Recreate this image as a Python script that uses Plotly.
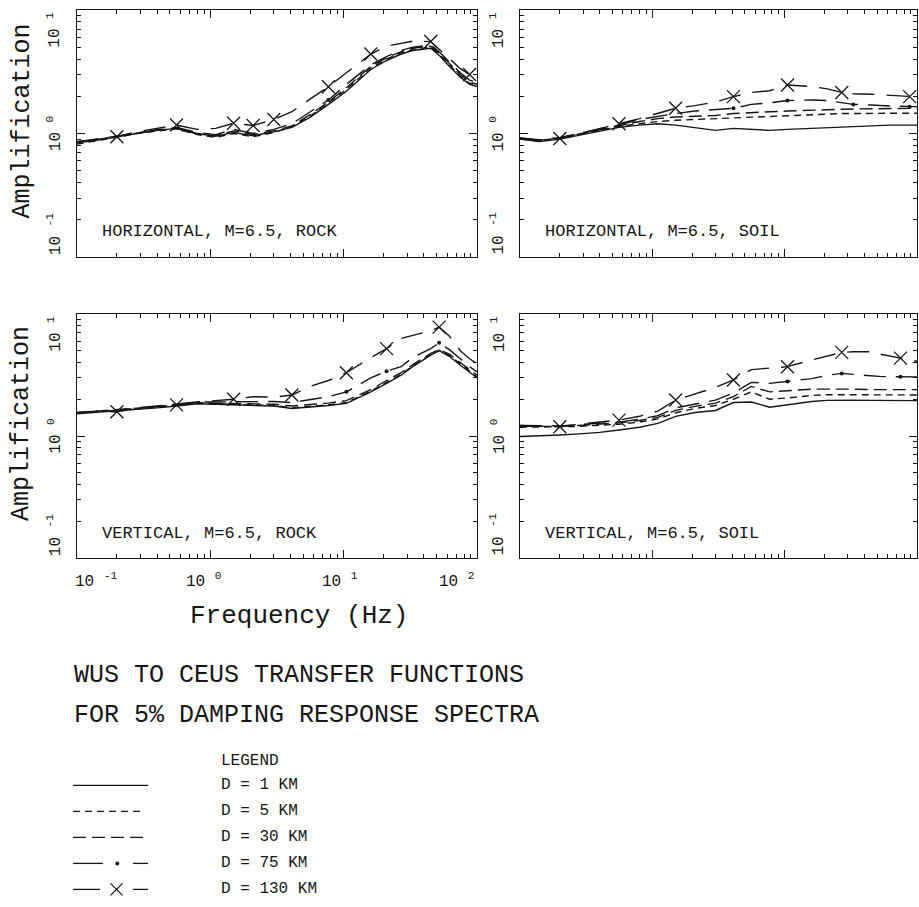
import math
import plotly.graph_objects as go

# ---------------- data ----------------
freq = [0.1, 0.14, 0.2, 0.28, 0.4, 0.56, 0.8, 1.1, 1.5, 2.1, 3.0, 4.1, 5.6, 7.7,
        10.5, 16, 21, 27, 33, 45, 52, 62, 75, 88, 100]
distances = ["1", "5", "30", "75", "130"]

# Horizontal, M=6.5, rock
h_rock_1 = [0.84, 0.88, 0.94, 1.0, 1.06, 1.1, 1.0, 0.95, 1.02, 0.96, 1.03, 1.12, 1.35, 1.72,
            2.2, 3.3, 3.9, 4.4, 4.7, 4.9, 4.3, 3.5, 2.85, 2.5, 2.4]
h_rock_5 = [0.82, 0.87, 0.93, 1.0, 1.05, 1.09, 0.98, 0.93, 1.0, 0.94, 1.02, 1.13, 1.38, 1.76,
            2.28, 3.4, 4.0, 4.5, 4.8, 5.0, 4.4, 3.6, 2.9, 2.55, 2.45]
h_rock_30 = [0.86, 0.89, 0.95, 1.01, 1.07, 1.1, 0.99, 0.96, 1.05, 0.98, 1.05, 1.15, 1.42, 1.8,
             2.35, 3.5, 4.1, 4.6, 4.9, 5.1, 4.5, 3.7, 3.0, 2.6, 2.5]
h_rock_75 = [0.85, 0.9, 0.95, 1.02, 1.07, 1.12, 1.02, 0.98, 1.08, 1.0, 1.08, 1.2, 1.5, 1.87,
             2.5, 3.6, 4.2, 4.7, 5.0, 5.2, 4.6, 3.8, 3.1, 2.7, 2.6]
h_rock_130 = [0.86, 0.9, 0.94, 1.03, 1.1, 1.17, 1.08, 1.1, 1.21, 1.16, 1.3, 1.5, 1.9, 2.39,
              3.1, 4.4, 5.1, 5.4, 5.6, 5.55, 4.8, 4.0, 3.35, 3.0, 2.85]

# Horizontal, M=6.5, soil
h_soil_1 = [0.9, 0.86, 0.9, 0.97, 1.05, 1.12, 1.17, 1.2, 1.17, 1.12, 1.06, 1.1, 1.08, 1.06,
            1.08, 1.1, 1.12, 1.14, 1.15, 1.16, 1.17, 1.17, 1.17, 1.17, 1.17]
h_soil_5 = [0.9, 0.87, 0.91, 0.98, 1.06, 1.14, 1.2, 1.25, 1.28, 1.3, 1.32, 1.34, 1.36, 1.38,
            1.4, 1.42, 1.44, 1.45, 1.45, 1.46, 1.46, 1.46, 1.46, 1.46, 1.46]
h_soil_30 = [0.91, 0.88, 0.92, 0.99, 1.07, 1.15, 1.25, 1.32, 1.36, 1.38, 1.4, 1.45, 1.48, 1.5,
             1.52, 1.55, 1.56, 1.57, 1.58, 1.59, 1.6, 1.6, 1.6, 1.6, 1.6]
h_soil_75 = [0.92, 0.88, 0.93, 1.0, 1.08, 1.17, 1.3, 1.38, 1.45, 1.52, 1.56, 1.6, 1.72, 1.77,
             1.85, 1.87, 1.85, 1.78, 1.72, 1.7, 1.68, 1.67, 1.66, 1.65, 1.65]
h_soil_130 = [0.92, 0.89, 0.91, 1.0, 1.1, 1.2, 1.32, 1.45, 1.6, 1.68, 1.8, 1.99, 2.15, 2.22,
              2.47, 2.4, 2.3, 2.15, 2.1, 2.08, 2.06, 2.04, 2.01, 1.99, 1.98]

# Vertical, M=6.5, rock
v_rock_1 = [1.52, 1.56, 1.6, 1.64, 1.7, 1.76, 1.84, 1.82, 1.8, 1.78, 1.76, 1.68, 1.72, 1.78,
            1.85, 2.3, 2.7, 3.15, 3.7, 4.6, 5.0, 4.5, 3.8, 3.3, 3.0]
v_rock_5 = [1.54, 1.58, 1.62, 1.66, 1.72, 1.78, 1.86, 1.84, 1.82, 1.8, 1.78, 1.7, 1.75, 1.8,
            1.88, 2.33, 2.75, 3.2, 3.75, 4.65, 5.05, 4.6, 3.9, 3.4, 3.05]
v_rock_30 = [1.56, 1.6, 1.63, 1.68, 1.74, 1.8, 1.88, 1.86, 1.85, 1.83, 1.82, 1.76, 1.8, 1.86,
             1.95, 2.4, 2.85, 3.3, 3.85, 4.75, 5.1, 4.7, 4.0, 3.5, 3.15]
v_rock_75 = [1.55, 1.6, 1.62, 1.7, 1.76, 1.82, 1.9, 1.9, 1.9, 1.9, 1.92, 1.88, 1.98, 2.1,
             2.3, 3.0, 3.4, 3.7, 4.4, 5.2, 5.8, 5.1, 4.3, 3.7, 3.35]
v_rock_130 = [1.55, 1.58, 1.58, 1.68, 1.75, 1.8, 1.9, 1.95, 2.0, 2.1, 2.08, 2.17, 2.55, 2.85,
              3.3, 4.4, 5.2, 6.3, 6.7, 7.3, 7.8, 6.6, 5.0, 4.3, 3.9]

# Vertical, M=6.5, soil
v_soil_1 = [0.99, 1.0, 1.02, 1.04, 1.07, 1.12, 1.18, 1.27, 1.45, 1.56, 1.62, 1.88, 1.9, 1.72,
            1.8, 1.92, 1.96, 1.97, 1.97, 1.96, 1.96, 1.96, 1.95, 1.95, 1.95]
v_soil_5 = [1.18, 1.18, 1.19, 1.2, 1.22, 1.25, 1.3, 1.38, 1.55, 1.68, 1.78, 2.0, 2.3, 2.0,
            2.05, 2.15, 2.18, 2.18, 2.18, 2.18, 2.17, 2.17, 2.17, 2.17, 2.17]
v_soil_30 = [1.2, 1.2, 1.2, 1.22, 1.25, 1.28, 1.34, 1.42, 1.62, 1.75, 1.86, 2.1, 2.55, 2.3,
             2.35, 2.42, 2.42, 2.43, 2.42, 2.4, 2.4, 2.4, 2.4, 2.4, 2.4]
v_soil_75 = [1.22, 1.21, 1.21, 1.24, 1.27, 1.3, 1.37, 1.47, 1.7, 1.82, 1.97, 2.25, 2.75, 2.7,
             2.8, 2.95, 3.15, 3.26, 3.2, 3.1, 3.08, 3.06, 3.06, 3.05, 3.05]
v_soil_130 = [1.22, 1.21, 1.19, 1.25, 1.3, 1.35, 1.45, 1.6, 1.97, 2.2, 2.5, 2.88, 3.5, 3.6,
              3.7, 4.2, 4.5, 4.85, 4.9, 4.9, 4.7, 4.5, 4.35, 4.2, 4.1]

# indices of freq where the symbols of the 130 km (X) and 75 km (dot) curves sit
h_rock_x_idx = [2, 5, 8, 9, 10, 13, 15, 19, 23]
h_rock_dot_idx = [13]
h_soil_x_idx = [2, 5, 8, 11, 14, 17, 23]
h_soil_dot_idx = [11, 14, 18, 23]
v_rock_x_idx = [2, 5, 8, 11, 14, 16, 20]
v_rock_dot_idx = [14, 16, 20]
v_soil_x_idx = [2, 5, 8, 11, 14, 17, 22]
v_soil_dot_idx = [14, 17, 22]

panel_titles = ["HORIZONTAL, M=6.5, ROCK", "HORIZONTAL, M=6.5, SOIL",
                "VERTICAL, M=6.5, ROCK", "VERTICAL, M=6.5, SOIL"]
y_tick_vals = [0.1, 1, 10]
y_tick_text = ["10 <sup>-1</sup>", "10 <sup>0</sup>", "10 <sup>1</sup>"]
x_tick_vals = [0.1, 1, 10, 100]
x_tick_text = ["10 <sup>-1</sup>", "10 <sup>0</sup>", "10 <sup>1</sup>", "10 <sup>2</sup>"]
title_lines = ["WUS TO CEUS TRANSFER FUNCTIONS", "FOR 5% DAMPING RESPONSE SPECTRA"]
legend_labels = ["D = 1 KM", "D = 5 KM", "D = 30 KM", "D = 75 KM", "D = 130 KM"]

# ---------------- styling / layout ----------------
W, H = 919, 907
INK = "#161616"
FONT = "Liberation Mono"
dashes = ["solid", "7px,5px", "13px,6px", "22px,10px", "22px,12px"]

def px_x(p):
    return p / W

def px_y(p):
    return 1 - p / H

panels = [
    dict(series=[h_rock_1, h_rock_5, h_rock_30, h_rock_75, h_rock_130],
         xi=h_rock_x_idx, di=h_rock_dot_idx, x=(76.7, 477), y=(10, 257)),
    dict(series=[h_soil_1, h_soil_5, h_soil_30, h_soil_75, h_soil_130],
         xi=h_soil_x_idx, di=h_soil_dot_idx, x=(520, 917), y=(10, 257)),
    dict(series=[v_rock_1, v_rock_5, v_rock_30, v_rock_75, v_rock_130],
         xi=v_rock_x_idx, di=v_rock_dot_idx, x=(76.7, 477), y=(314, 558)),
    dict(series=[v_soil_1, v_soil_5, v_soil_30, v_soil_75, v_soil_130],
         xi=v_soil_x_idx, di=v_soil_dot_idx, x=(520, 917), y=(314, 558)),
]

minor_x = [m * 10 ** e for e in (-1, 0, 1) for m in range(2, 10)]
minor_y = [m * 10 ** e for e in (-1, 0) for m in range(2, 10)]

fig = go.Figure()
layout = dict(width=W, height=H, margin=dict(l=0, r=0, t=0, b=0),
              paper_bgcolor="white", plot_bgcolor="white", showlegend=False)
annotations = []

for k, p in enumerate(panels):
    n = "" if k == 0 else str(k + 1)
    xa, ya = "x" + n, "y" + n
    for s, vals in enumerate(p["series"]):
        fig.add_trace(go.Scatter(x=freq, y=vals, mode="lines", xaxis=xa, yaxis=ya,
                                 line=dict(color=INK, width=1.4, dash=dashes[s]),
                                 hoverinfo="skip"))
    s130 = p["series"][4]
    s75 = p["series"][3]
    fig.add_trace(go.Scatter(x=[freq[i] for i in p["xi"]], y=[s130[i] for i in p["xi"]],
                             mode="markers", xaxis=xa, yaxis=ya,
                             marker=dict(symbol="x-thin", size=13, color=INK,
                                         line=dict(color=INK, width=1.3)),
                             cliponaxis=False, hoverinfo="skip"))
    fig.add_trace(go.Scatter(x=[freq[i] for i in p["di"]], y=[s75[i] for i in p["di"]],
                             mode="markers", xaxis=xa, yaxis=ya,
                             marker=dict(symbol="circle", size=4, color=INK),
                             hoverinfo="skip"))
    common = dict(type="log", showline=True, linecolor=INK, linewidth=1.3, mirror="ticks",
                  ticks="inside", ticklen=8, tickwidth=1.2, tickcolor=INK,
                  showgrid=False, zeroline=False, showticklabels=False)
    layout["xaxis" + n] = dict(common, domain=[px_x(p["x"][0]), px_x(p["x"][1])],
                               range=[-1, 2], anchor=ya, tickvals=x_tick_vals,
                               minor=dict(tickvals=minor_x, ticks="inside", ticklen=4,
                                          tickcolor=INK, showgrid=False))
    layout["yaxis" + n] = dict(common, domain=[px_y(p["y"][1]), px_y(p["y"][0])],
                               range=[-1, 1], anchor=xa, tickvals=y_tick_vals,
                               minor=dict(tickvals=minor_y, ticks="inside", ticklen=4,
                                          tickcolor=INK, showgrid=False))
    # rotated y tick labels
    anchors = ["bottom", "middle", "top"]
    for v, t, a in zip(y_tick_vals, y_tick_text, anchors):
        annotations.append(dict(xref="paper", yref=ya, x=px_x(p["x"][0] - 22), y=math.log10(v),
                                text=t, textangle=-90, showarrow=False, xanchor="center",
                                yanchor=a, font=dict(family=FONT, size=16, color=INK)))
    # panel caption
    annotations.append(dict(xref="paper", yref="paper", x=px_x(p["x"][0] + 23),
                            y=px_y(p["y"][1] - 25), text=panel_titles[k], showarrow=False,
                            xanchor="left", yanchor="middle",
                            font=dict(family=FONT, size=17, color=INK)))
    if k in (0, 2):
        yc = (p["y"][0] + p["y"][1]) / 2 - 12
        annotations.append(dict(xref="paper", yref="paper", x=px_x(22), y=px_y(yc),
                                text="Amplification", textangle=-90, showarrow=False,
                                xanchor="center", yanchor="middle",
                                font=dict(family=FONT, size=25, color=INK)))

# x tick labels under the lower-left panel
x_anchor = ["left", "center", "center", "right"]
x_shift = [-4, -6, -4, 0]
for v, t, a, sh in zip(x_tick_vals, x_tick_text, x_anchor, x_shift):
    annotations.append(dict(xref="x3", yref="paper", x=math.log10(v), y=px_y(580), text=t,
                            showarrow=False, xanchor=a, yanchor="middle", xshift=sh,
                            font=dict(family=FONT, size=16, color=INK)))
annotations.append(dict(xref="paper", yref="paper", x=px_x(299), y=px_y(616),
                        text="Frequency (Hz)", showarrow=False, xanchor="center",
                        yanchor="middle", font=dict(family=FONT, size=26, color=INK)))
for i, line in enumerate(title_lines):
    annotations.append(dict(xref="paper", yref="paper", x=px_x(72), y=px_y(675 + 40 * i),
                            text=line, showarrow=False, xanchor="left", yanchor="middle",
                            font=dict(family=FONT, size=25, color=INK)))

# legend block (own small axes)
legend_rows = [0, 1, 2, 3, 4]
layout["xaxis5"] = dict(domain=[px_x(73), px_x(148)], range=[0, 1], visible=False,
                        anchor="y5")
layout["yaxis5"] = dict(domain=[px_y(905), px_y(775)], range=[4.6, -0.4], visible=False,
                        anchor="x5")
seg_x = [[0, 1], [0, 0.93], [0, 1], [0, 0.4, None, 0.8, 1], [0, 0.36, None, 0.8, 1]]
seg_dash = ["solid", "7px,5px", "13px,6px", "solid", "solid"]
for r, sx, dd in zip(legend_rows, seg_x, seg_dash):
    fig.add_trace(go.Scatter(x=sx, y=[r if v is not None else None for v in sx],
                             mode="lines", xaxis="x5", yaxis="y5",
                             line=dict(color=INK, width=1.3, dash=dd), hoverinfo="skip"))
fig.add_trace(go.Scatter(x=[0.59], y=[legend_rows[3]], mode="markers", xaxis="x5", yaxis="y5",
                         marker=dict(symbol="circle", size=4, color=INK), hoverinfo="skip"))
fig.add_trace(go.Scatter(x=[0.58], y=[legend_rows[4]], mode="markers", xaxis="x5", yaxis="y5",
                         marker=dict(symbol="x-thin", size=12, color=INK,
                                     line=dict(color=INK, width=1.3)), hoverinfo="skip"))
annotations.append(dict(xref="paper", yref="paper", x=px_x(219), y=px_y(761), text="LEGEND",
                        showarrow=False, xanchor="left", yanchor="middle",
                        font=dict(family=FONT, size=16, color=INK)))
for r, lab in zip(legend_rows, legend_labels):
    annotations.append(dict(xref="paper", yref="y5", x=px_x(219), y=r, text=lab,
                            showarrow=False, xanchor="left", yanchor="middle",
                            font=dict(family=FONT, size=16, color=INK)))

layout["annotations"] = annotations
fig.update_layout(**layout)
fig.write_html("out.html")
